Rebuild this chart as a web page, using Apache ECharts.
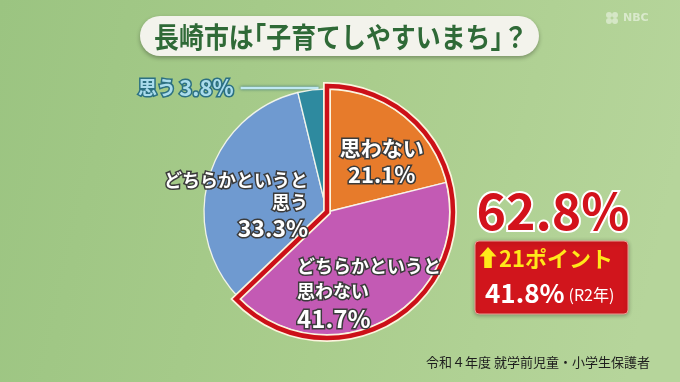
<!DOCTYPE html>
<html><head><meta charset="utf-8">
<script src="https://cdn.jsdelivr.net/npm/echarts@6/dist/echarts.min.js"></script>
<style>html,body{margin:0;padding:0;width:680px;height:382px;overflow:hidden}#c{width:680px;height:382px}</style>
</head><body><div id="c"></div>
<script>
// ---- data ----
const categories = ['思わない', 'どちらかというと\n思わない', 'どちらかというと\n思う', '思う'];
const values = [21.1, 41.7, 33.3, 3.8];
const colors = ['#e77b2b', '#c35ab4', '#6f9ad0', '#2e8a9f'];
const prevValue = [41.8];
const prevLabel = ['(R2年)'];
const titleText = ['長崎市は｢子育てしやすいまち｣？'];
const sourceText = ['令和４年度 就学前児童・小学生保護者'];

// ---- derived ----
const negTotal = Math.round((values[0] + values[1]) * 10) / 10;
const posTotal = Math.round((values[2] + values[3]) * 10) / 10;
const diffPts = Math.round(negTotal - prevValue[0]);

const FONT = '"Noto Sans CJK JP", "Noto Sans", sans-serif';
const CX = 327, CY = 212, R = 123;

function richStyle(size, lh, align) {
  return { fontFamily: FONT, fontWeight: 'bold', fontSize: size, lineHeight: lh, color: '#ffffff',
    textBorderColor: '#3b3b3b', textBorderWidth: 3, align: align };
}
const labelAligns = ['center', 'left', 'right', 'left'];
const kanaSize = [21, 18, 18];
const kanaLH = [27, 25, 22];
const pctSize = [22, 24, 23];
const pctLH = [27, 30, 29];
const labelShift = [[15, 0], [11, 25], [-29, 12]];

const pieData = values.map(function (v, i) {
  const lines = categories[i].split('\n');
  if (i === 3) {
    return {
      name: categories[i], value: v, itemStyle: { color: colors[i] },
      label: {
        show: true, position: 'outside',
        formatter: '{t|' + lines.join('') + '} {n|' + v.toFixed(1) + '%}',
        rich: {
          t: { fontFamily: FONT, fontWeight: 'bold', fontSize: 19, color: '#aadcec', textBorderColor: '#2c7082', textBorderWidth: 3 },
          n: { fontFamily: FONT, fontWeight: 'bold', fontSize: 22, color: '#aadcec', textBorderColor: '#2c7082', textBorderWidth: 3 }
        }
      },
      labelLine: { show: true, length: 6, length2: 60, lineStyle: { color: '#bfe8f2', width: 2.5, shadowColor: 'rgba(30,90,105,0.9)', shadowBlur: 3 } }
    };
  }
  const al = labelAligns[i];
  const rich = { k: richStyle(kanaSize[i], kanaLH[i], al), p: richStyle(pctSize[i], pctLH[i], al) };
  const fmt = lines.map(function (l) { return '{k|' + l + '}'; }).join('\n') + '\n{p|' + v.toFixed(1) + '%}';
  return {
    name: categories[i], value: v, itemStyle: { color: colors[i] },
    label: { show: true, position: 'inside', formatter: fmt, rich: rich },
    labelLine: { show: false }
  };
});

const chart = echarts.init(document.getElementById('c'), null, { renderer: 'canvas' });
chart.setOption({
  animation: false,
  backgroundColor: {
    type: 'linear', x: 0, y: 0, x2: 1, y2: 0.4,
    colorStops: [{ offset: 0, color: '#9bc481' }, { offset: 0.55, color: '#aacd8d' }, { offset: 1, color: '#b6d59b' }]
  },
  series: [
    {
      type: 'pie', center: [CX, CY], radius: R, startAngle: 90, clockwise: true,
      avoidLabelOverlap: false, silent: true,
      emphasis: { disabled: true },
      itemStyle: { borderColor: 'rgba(250,250,240,0.9)', borderWidth: 1.3 },
      data: pieData,
      labelLayout: function (params) {
        const i = params.dataIndex;
        if (i === 3) {
          const lx = 138, ly = 88;
          const w = params.labelRect.width;
          const p = params.labelLinePoints;
          let pts;
          if (p) {
            const sx = p[0][0] + 5;
            pts = [[sx, p[0][1] + 13], [sx, ly], [lx + w + 4, ly]];
          }
          const res = { x: lx, y: ly, align: 'left', verticalAlign: 'middle' };
          if (pts) res.labelLinePoints = pts;
          return res;
        }
        return { dx: labelShift[i][0], dy: labelShift[i][1] };
      }
    },
    {
      type: 'pie', center: [CX, CY], radius: R + 3, startAngle: 90, clockwise: true, silent: true,
      label: { show: false }, labelLine: { show: false }, emphasis: { disabled: true },
      data: [
        { value: negTotal, itemStyle: { color: 'transparent', borderColor: '#fbf4de', borderWidth: 8, borderJoin: 'miter' } },
        { value: posTotal, itemStyle: { opacity: 0, borderWidth: 0 } }
      ]
    },
    {
      type: 'pie', center: [CX, CY], radius: R + 3, startAngle: 90, clockwise: true, silent: true,
      label: { show: false }, labelLine: { show: false }, emphasis: { disabled: true },
      data: [
        { value: negTotal, itemStyle: { color: 'transparent', borderColor: '#cc1018', borderWidth: 4.5, borderJoin: 'miter' } },
        { value: posTotal, itemStyle: { opacity: 0, borderWidth: 0 } }
      ]
    }
  ],
  graphic: [
    // title
    { type: 'rect', shape: { x: 140, y: 16, width: 399, height: 40, r: 20 },
      style: { fill: '#f3f3ec', shadowColor: 'rgba(0,0,0,0.3)', shadowBlur: 4, shadowOffsetY: 2 } },
    { type: 'text', x: 341, y: 37, scaleX: 0.89, style: { text: titleText[0], font: 'bold 28px ' + FONT, fill: '#2f6a37', align: 'center', verticalAlign: 'middle' } },
    // logo
    { type: 'group', x: 612, y: 18, children: [
      { type: 'circle', shape: { cx: -3, cy: -3, r: 3 }, style: { fill: 'rgba(255,255,255,0.45)' } },
      { type: 'circle', shape: { cx: 3, cy: -3, r: 3 }, style: { fill: 'rgba(255,255,255,0.45)' } },
      { type: 'circle', shape: { cx: -3, cy: 3, r: 3 }, style: { fill: 'rgba(255,255,255,0.45)' } },
      { type: 'circle', shape: { cx: 3, cy: 3, r: 3 }, style: { fill: 'rgba(255,255,255,0.45)' } }
    ] },
    { type: 'text', x: 623, y: 18, style: { text: 'NBC', font: 'bold 11px "DejaVu Sans", sans-serif', fill: 'rgba(255,255,255,0.5)', verticalAlign: 'middle' } },
    // big total
    { type: 'text', x: 553, y: 211, style: { text: negTotal.toFixed(1) + '%', font: 'bold 50px ' + FONT, fill: '#d3121b',
      stroke: '#ffffff', lineWidth: 4, align: 'center', verticalAlign: 'middle', shadowColor: 'rgba(0,0,0,0.25)', shadowBlur: 3 } },
    // red box
    { type: 'rect', shape: { x: 475, y: 241, width: 153, height: 73, r: 4 },
      style: { fill: '#d1151c', stroke: '#ee9c94', lineWidth: 1, shadowColor: 'rgba(0,0,0,0.3)', shadowBlur: 4, shadowOffsetY: 1 } },
    { type: 'polygon', shape: { points: [[488, 247], [496.5, 256.5], [491.8, 256.5], [491.8, 268], [484.2, 268], [484.2, 256.5], [479.5, 256.5]] },
      style: { fill: '#ffe81a' } },
    { type: 'text', x: 499, y: 259, style: { text: diffPts + 'ポイント', font: 'bold 22px ' + FONT, fill: '#ffe81a', verticalAlign: 'middle' } },
    { type: 'text', x: 485, y: 293, style: { text: '{a|' + prevValue[0].toFixed(1) + '%}{b|' + prevLabel[0] + '}', verticalAlign: 'middle',
      rich: { a: { fontFamily: FONT, fontWeight: 'bold', fontSize: 26, fill: '#ffffff' }, b: { fontFamily: FONT, fontSize: 16, fill: '#ffffff', padding: [4, 0, 0, 4] } } } },
    // source
    { type: 'text', x: 650, y: 362, style: { text: sourceText[0], font: '13px ' + FONT, fill: '#1e1e1e', align: 'right', verticalAlign: 'middle' } }
  ]
});
</script></body></html>
